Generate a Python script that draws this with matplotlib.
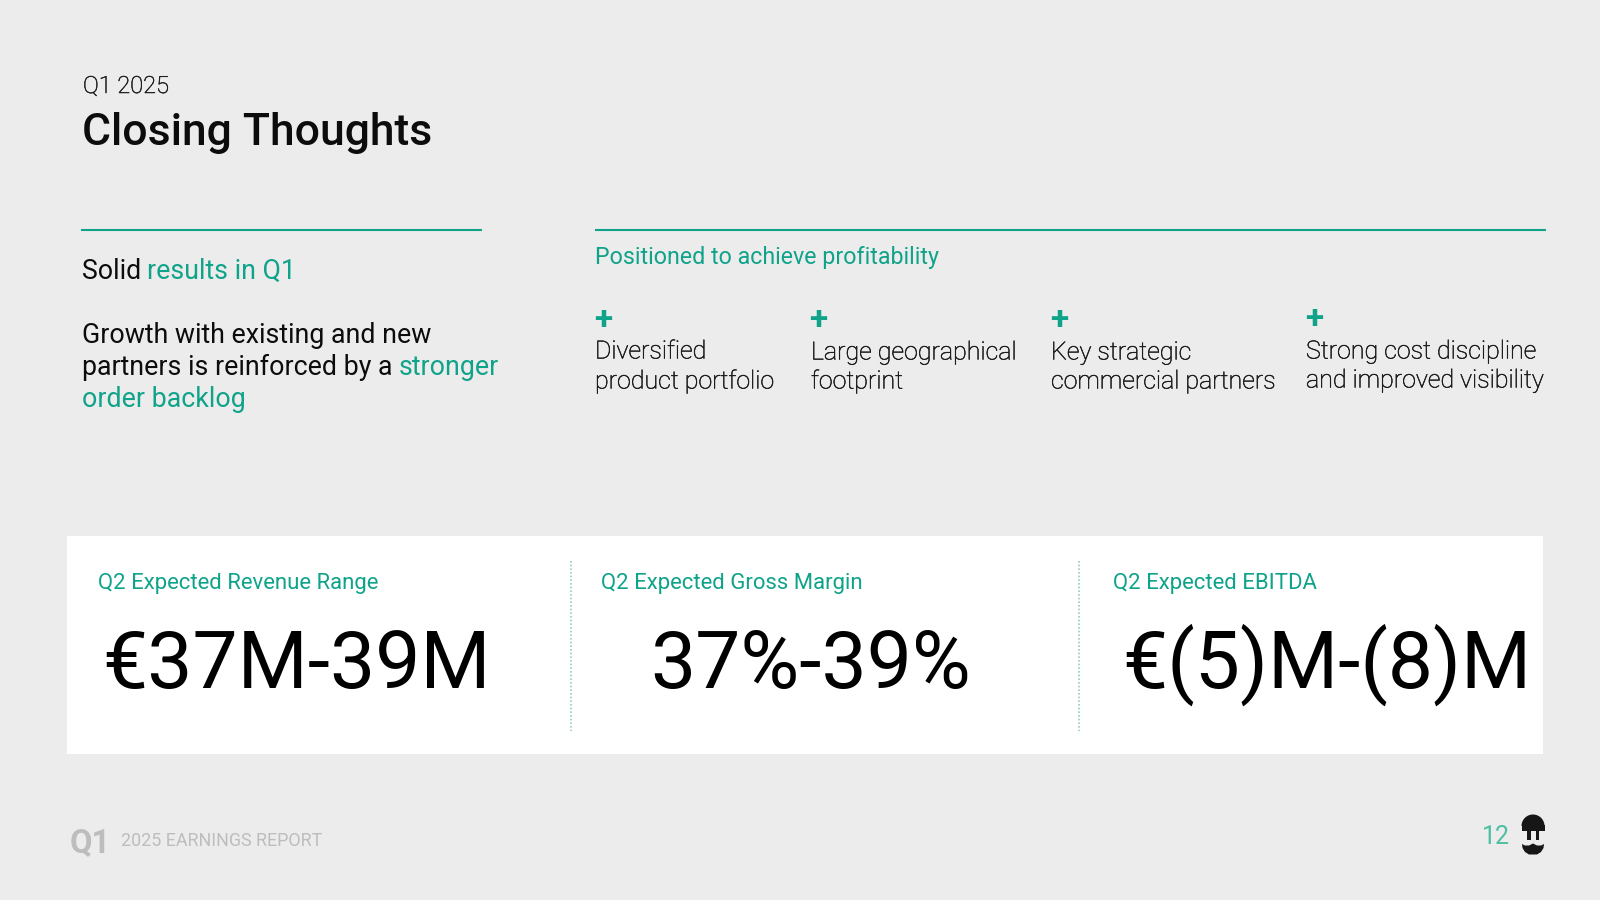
import matplotlib
matplotlib.use('Agg')
import matplotlib.pyplot as plt
import matplotlib.patheffects as pe
from matplotlib.patches import Rectangle, Polygon, Wedge

plt.rcParams['font.family'] = ['Roboto', 'DejaVu Sans']

GREEN = '#0fa38a'
INK = '#0c0c0c'
GREY = '#bdbdbd'

period = 'Q1 2025'
title = 'Closing Thoughts'
solid_parts = [('Solid ', INK), ('results in Q1', GREEN)]
growth_lines = [[('Growth with existing and new', INK)],
                [('partners is reinforced by a ', INK), ('stronger', GREEN)],
                [('order backlog', GREEN)]]
positioned = 'Positioned to achieve profitability'
plus_items = [['Diversified', 'product portfolio'],
              ['Large geographical', 'footprint'],
              ['Key strategic', 'commercial partners'],
              ['Strong cost discipline', 'and improved visibility']]
kpi_labels = ['Q2 Expected Revenue Range', 'Q2 Expected Gross Margin', 'Q2 Expected EBITDA']
kpi_values = ['€37M-39M', '37%-39%', '€(5)M-(8)M']
footer_q = 'Q1'
footer_text = '2025 EARNINGS REPORT'
page = '12'

fig = plt.figure(figsize=(16, 9), dpi=100, facecolor='#ececec')
ax = fig.add_axes([0, 0, 1, 1])
ax.set_xlim(0, 1600)
ax.set_ylim(900, 0)
ax.axis('off')


def txt(x, y, s, size, color=INK, weight='normal', ha='left'):
    return ax.text(x, y, s, fontsize=size, color=color, fontweight=weight, ha=ha, va='baseline')


def thin(x, y, s, size, color):
    # light face comes out too faint here, thicken it a touch
    t = txt(x, y, s, size, color, 'light')
    t.set_path_effects([pe.withStroke(linewidth=0.35, foreground=color)])
    return t


def runs(x, y, parts, size):
    # coloured pieces on one baseline, each starts where the last one ended
    r = fig.canvas.get_renderer()
    for s, c in parts:
        t = txt(x, y, s, size, c)
        x += t.get_window_extent(r).width


thin(83, 93, period, 17, '#1c1c1c')
txt(82, 145, title, 32, INK, 'medium')

ax.plot([82, 481], [230, 230], c=GREEN, lw=1.5)
ax.plot([595.5, 1545], [230, 230], c=GREEN, lw=1.5)

runs(81.5, 279, solid_parts, 19.25)
for parts, y in zip(growth_lines, [343, 375, 407]):
    runs(81.5, y, parts, 19.25)

txt(595, 264, positioned, 16.75, GREEN)

plus_x = [594, 809, 1050, 1305]
plus_y = [329, 329, 329, 328]
text_x = [595, 811, 1051, 1306]
y1 = [358.5, 359.5, 359.5, 358.5]
y2 = [388.5, 388.5, 388.5, 387.5]
for i, lines in enumerate(plus_items):
    txt(plus_x[i], plus_y[i], '+', 24, GREEN, 'bold')
    thin(text_x[i], y1[i], lines[0], 18, '#1a1a1a')
    thin(text_x[i], y2[i], lines[1], 18, '#1a1a1a')

ax.add_patch(Rectangle((67, 536), 1476, 218, fc='white', ec='none'))
for x in [571, 1079]:
    ax.plot([x, x], [561, 731], c='#8fcfc2', lw=1.2, ls=(0, (1, 1.2)))

label_x = [98, 601, 1113]
value_x = [102, 650, 1122]
for i in range(3):
    txt(label_x[i], 589, kpi_labels[i], 15.9, GREEN)
    txt(value_x[i], 688, kpi_values[i], 57.9, '#000000')

txt(70, 852, footer_q, 23.5, GREY, 'bold')
txt(121, 846, footer_text, 12.85, GREY)
txt(1482, 844, page, 18, '#4dbfa3')

# logo: dome with two prongs and a moustache
ax.add_patch(Wedge((1533, 826), 11.5, 180, 360, fc='#161616', ec='none'))
ax.add_patch(Rectangle((1521.5, 825), 23, 6, fc='#161616', ec='none'))
for x in [1527, 1535.5]:
    ax.add_patch(Rectangle((x, 830), 3.5, 10, fc='#161616', ec='none'))
ax.add_patch(Polygon([(1522, 844), (1525, 845.5), (1529, 845.5), (1533, 843.5), (1537, 845.5),
                      (1541, 845.5), (1544, 844), (1543.5, 848), (1541, 852), (1537, 854.5),
                      (1529, 854.5), (1525, 852), (1522.5, 848)], fc='#161616', ec='none'))

fig.savefig('out.png', dpi=100, facecolor=fig.get_facecolor())
